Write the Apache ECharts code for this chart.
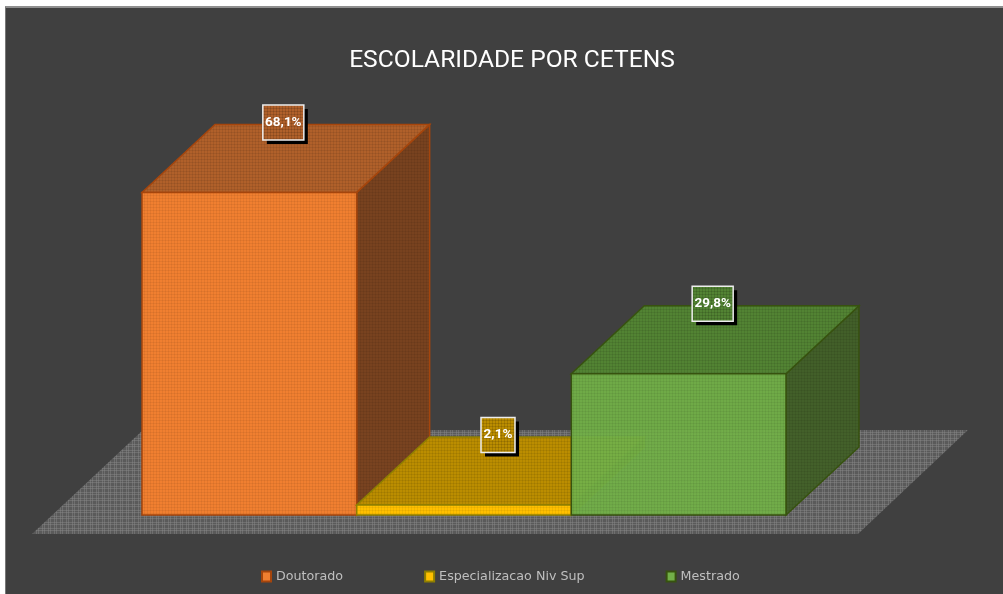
<!DOCTYPE html>
<html><head><meta charset="utf-8">
<style>
html,body{margin:0;padding:0;background:#fff;overflow:hidden}
#plate{position:absolute;left:5px;top:6px;width:998px;height:588px;background:#404040;box-sizing:border-box;border-top:2px solid #8f8f8f;border-left:1px solid #777}
#main{position:absolute;left:0;top:0;width:1003px;height:594px}
</style>
<script src="https://cdn.jsdelivr.net/npm/echarts@6/dist/echarts.min.js"></script>
</head><body><div id="plate"></div><div id="main"></div>
<script>
var titleText = 'ESCOLARIDADE POR CETENS';
var categories = ['Doutorado', 'Especializacao Niv Sup', 'Mestrado'];
var shares = [68.1, 2.1, 29.8];
var labels = ['68,1%', '2,1%', '29,8%'];
var frontColors = ['#F07F30', '#FFC000', '#72B048'];
var topColors = ['#B0602A', '#BB8D00', '#528333'];
var sideColors = ['#7A421E', '#7A5E00', '#426028'];
var edgeColors = ['#A5450C', '#8F7F00', '#37520F'];
var depthX = 73, depthY = 68;

function tile(base, line, period, alpha, baseAlpha) {
  var c = document.createElement('canvas');
  c.width = c.height = period;
  var g = c.getContext('2d');
  g.globalAlpha = baseAlpha === undefined ? 1 : baseAlpha;
  g.fillStyle = base; g.fillRect(0, 0, period, period);
  g.globalAlpha = alpha; g.fillStyle = line;
  g.fillRect(0, 0, period, 1); g.fillRect(0, 0, 1, period);
  return { image: c, repeat: 'repeat' };
}
function plaid() {
  var c = document.createElement('canvas');
  c.width = c.height = 6;
  var g = c.getContext('2d');
  g.fillStyle = '#5A5A5A'; g.fillRect(0, 0, 6, 6);
  g.fillStyle = 'rgba(140,140,140,0.42)';
  [0, 2].forEach(function (p) { g.fillRect(0, p, 6, 1); g.fillRect(p, 0, 1, 6); });
  return { image: c, repeat: 'repeat' };
}
var floorFill = plaid();

function floorItem(params, api) {
  var a = api.coord([0, 0]), w = api.size([1, 0])[0];
  var left = a[0] - w / 2, y = a[1];
  return { type: 'polygon', silent: true, shape: { points: [
    [left - 110, y + 19], [left + 716, y + 19], [left + 826, y - 85], [left + 1, y - 85]
  ] }, style: { fill: floorFill } };
}
function barItem(params, api) {
  var i = api.value(0), v = api.value(1);
  var top = api.coord([i, v]), base = api.coord([i, 0]), w = api.size([1, 0])[0];
  var l = top[0] - w / 2, r = top[0] + w / 2, t = top[1], b = base[1];
  var sty = function (fill) { return { fill: fill, stroke: edgeColors[i], lineWidth: 1.5, lineJoin: 'miter' }; };
  var lx = top[0] + 34, ly = t - depthY - 2, bw = labels[i].length > 4 ? 41 : 34, bh = 35;
  return { type: 'group', children: [
    { type: 'polygon', shape: { points: [[r, t], [r + depthX, t - depthY], [r + depthX, b - depthY], [r, b]] },
      style: sty(tile(sideColors[i], '#000', 3, 0.06, 0.97)) },
    { type: 'polygon', shape: { points: [[l, t], [r, t], [r + depthX, t - depthY], [l + depthX, t - depthY]] },
      style: sty(tile(topColors[i], '#000', 3, 0.07)) },
    { type: 'rect', shape: { x: l, y: t, width: w, height: b - t },
      style: sty(tile(frontColors[i], '#000', 3, 0.05, i === 2 ? 0.95 : 1)) },
    { type: 'rect', z2: 20, shape: { x: lx - bw / 2 + 4, y: ly - bh / 2 + 4, width: bw, height: bh }, style: { fill: '#000' } },
    { type: 'rect', z2: 21, shape: { x: lx - bw / 2, y: ly - bh / 2, width: bw, height: bh },
      style: { fill: tile(topColors[i], '#000', 3, 0.12), stroke: '#EDEDED', lineWidth: 1.5 } },
    { type: 'text', z2: 22, style: { text: labels[i], x: lx, y: ly, align: 'center', verticalAlign: 'middle',
      fill: '#fff', font: 'bold 13.5px Roboto,"Open Sans",sans-serif' } }
  ] };
}
var series = [{ type: 'custom', name: 'piso', z: 1, silent: true, clip: false, data: [[0, 0]],
  encode: { x: 0, y: 1 }, renderItem: floorItem }];
categories.forEach(function (name, i) {
  series.push({ type: 'custom', name: name, z: 2 + i, silent: true, clip: false,
    itemStyle: { color: frontColors[i], borderColor: edgeColors[i], borderWidth: 1.5 },
    data: [[i, shares[i]]], encode: { x: 0, y: 1 }, renderItem: barItem });
});
var chart = echarts.init(document.getElementById('main'));
chart.setOption({
  animation: false,
  backgroundColor: 'transparent',
  title: { text: titleText, left: 507, top: 43, textAlign: 'center',
    textStyle: { color: '#fff', fontSize: 24.6, fontWeight: 'normal', fontFamily: 'Roboto,"Open Sans",sans-serif' } },
  grid: { left: 142, top: 136, width: 644, height: 379 },
  xAxis: { type: 'category', data: categories, show: false, boundaryGap: true },
  yAxis: { type: 'value', min: 0, max: 80, show: false },
  legend: { data: categories, bottom: 6, left: 256, itemWidth: 9, itemHeight: 10, itemGap: 81, icon: 'rect',
    textStyle: { color: '#BFBFBF', fontSize: 12.7, fontFamily: '"DejaVu Sans",sans-serif' } },
  series: series
});
</script></body></html>
